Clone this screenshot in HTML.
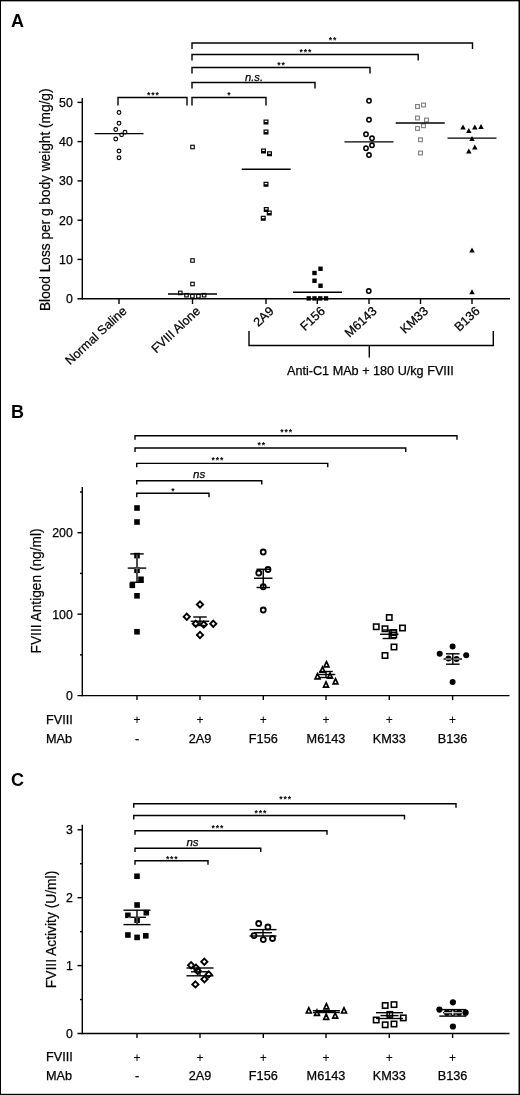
<!DOCTYPE html>
<html lang="en"><head><meta charset="utf-8"><title>Figure</title>
<style>
html,body{margin:0;padding:0;background:#fff;}
body{width:520px;height:1095px;overflow:hidden;}
svg{display:block;font-family:"Liberation Sans", Arial, Helvetica, sans-serif;}
</style></head><body>
<svg width="520" height="1095" viewBox="0 0 520 1095">
<rect width="520" height="1095" fill="#fff"/>
<text x="11" y="26.5" font-size="18" text-anchor="start" font-weight="bold" font-style="normal" fill="#000" stroke="#000" stroke-width="0">A</text>
<line x1="77.5" y1="102.4" x2="82.3" y2="102.4" stroke="#000" stroke-width="1.4"/>
<text x="72.8" y="106.80000000000001" font-size="12.3" text-anchor="end" font-weight="normal" font-style="normal" fill="#000" stroke="#000" stroke-width="0.25">50</text>
<line x1="77.5" y1="141.6" x2="82.3" y2="141.6" stroke="#000" stroke-width="1.4"/>
<text x="72.8" y="146.0" font-size="12.3" text-anchor="end" font-weight="normal" font-style="normal" fill="#000" stroke="#000" stroke-width="0.25">40</text>
<line x1="77.5" y1="180.9" x2="82.3" y2="180.9" stroke="#000" stroke-width="1.4"/>
<text x="72.8" y="185.3" font-size="12.3" text-anchor="end" font-weight="normal" font-style="normal" fill="#000" stroke="#000" stroke-width="0.25">30</text>
<line x1="77.5" y1="220.2" x2="82.3" y2="220.2" stroke="#000" stroke-width="1.4"/>
<text x="72.8" y="224.6" font-size="12.3" text-anchor="end" font-weight="normal" font-style="normal" fill="#000" stroke="#000" stroke-width="0.25">20</text>
<line x1="77.5" y1="259.4" x2="82.3" y2="259.4" stroke="#000" stroke-width="1.4"/>
<text x="72.8" y="263.79999999999995" font-size="12.3" text-anchor="end" font-weight="normal" font-style="normal" fill="#000" stroke="#000" stroke-width="0.25">10</text>
<text x="72.8" y="303.09999999999997" font-size="12.3" text-anchor="end" font-weight="normal" font-style="normal" fill="#000" stroke="#000" stroke-width="0.25">0</text>
<text x="49.5" y="311" font-size="15.4" text-anchor="start" font-weight="normal" font-style="normal" fill="#000" stroke="#000" stroke-width="0.2" transform="rotate(-90 49.5 311)" textLength="222.5" lengthAdjust="spacingAndGlyphs">Blood Loss per g body weight (mg/g)</text>
<text x="127.5" y="312" font-size="12.5" text-anchor="end" font-weight="normal" font-style="normal" fill="#000" stroke="#000" stroke-width="0.25" transform="rotate(-43 127.5 312)">Normal Saline</text>
<text x="201.0" y="312" font-size="12.5" text-anchor="end" font-weight="normal" font-style="normal" fill="#000" stroke="#000" stroke-width="0.25" transform="rotate(-43 201.0 312)">FVIII Alone</text>
<text x="274.5" y="312" font-size="12.5" text-anchor="end" font-weight="normal" font-style="normal" fill="#000" stroke="#000" stroke-width="0.25" transform="rotate(-43 274.5 312)">2A9</text>
<text x="325.8" y="312" font-size="12.5" text-anchor="end" font-weight="normal" font-style="normal" fill="#000" stroke="#000" stroke-width="0.25" transform="rotate(-43 325.8 312)">F156</text>
<text x="377.5" y="312" font-size="12.5" text-anchor="end" font-weight="normal" font-style="normal" fill="#000" stroke="#000" stroke-width="0.25" transform="rotate(-43 377.5 312)">M6143</text>
<text x="429.0" y="312" font-size="12.5" text-anchor="end" font-weight="normal" font-style="normal" fill="#000" stroke="#000" stroke-width="0.25" transform="rotate(-43 429.0 312)">KM33</text>
<text x="480.5" y="312" font-size="12.5" text-anchor="end" font-weight="normal" font-style="normal" fill="#000" stroke="#000" stroke-width="0.25" transform="rotate(-43 480.5 312)">B136</text>
<path d="M249 331 V345.5 H493.3 V331" stroke="#000" stroke-width="1.4" fill="none" />
<line x1="369.3" y1="345.5" x2="369.3" y2="357.5" stroke="#000" stroke-width="1.4"/>
<text x="287" y="375" font-size="12.65" text-anchor="start" font-weight="normal" font-style="normal" fill="#000" stroke="#000" stroke-width="0.25">Anti-C1 MAb + 180 U/kg FVIII</text>
<circle cx="119" cy="112.5" r="1.85" fill="none" stroke="#000" stroke-width="1.15"/>
<circle cx="119" cy="123.25" r="1.85" fill="none" stroke="#000" stroke-width="1.15"/>
<circle cx="115.75" cy="129.5" r="1.85" fill="none" stroke="#000" stroke-width="1.15"/>
<circle cx="125" cy="132.2" r="1.85" fill="none" stroke="#000" stroke-width="1.15"/>
<circle cx="121.6" cy="134.8" r="1.85" fill="none" stroke="#000" stroke-width="1.15"/>
<circle cx="115.75" cy="139" r="1.85" fill="none" stroke="#000" stroke-width="1.15"/>
<circle cx="119" cy="151" r="1.85" fill="none" stroke="#000" stroke-width="1.15"/>
<circle cx="119" cy="157.75" r="1.85" fill="none" stroke="#000" stroke-width="1.15"/>
<rect x="190.75" y="145.25" width="3.5" height="3.5" fill="none" stroke="#000" stroke-width="1.1"/>
<rect x="190.75" y="258.75" width="3.5" height="3.5" fill="none" stroke="#000" stroke-width="1.1"/>
<rect x="190.75" y="282.25" width="3.5" height="3.5" fill="none" stroke="#000" stroke-width="1.1"/>
<rect x="178.55" y="291.15" width="3.5" height="3.5" fill="none" stroke="#000" stroke-width="1.1"/>
<rect x="184.75" y="293.45" width="3.5" height="3.5" fill="none" stroke="#000" stroke-width="1.1"/>
<rect x="190.65" y="294.45" width="3.5" height="3.5" fill="none" stroke="#000" stroke-width="1.1"/>
<rect x="196.65" y="294.45" width="3.5" height="3.5" fill="none" stroke="#000" stroke-width="1.1"/>
<rect x="202.35" y="293.45" width="3.5" height="3.5" fill="none" stroke="#000" stroke-width="1.1"/>
<rect x="264.1" y="120.1" width="3.8" height="3.8" fill="none" stroke="#000" stroke-width="1.2"/>
<rect x="264.1" y="122" width="3.8" height="1.9" fill="#000"/>
<rect x="264.1" y="130.1" width="3.8" height="3.8" fill="none" stroke="#000" stroke-width="1.2"/>
<rect x="264.1" y="132" width="3.8" height="1.9" fill="#000"/>
<rect x="261.6" y="149.1" width="3.8" height="3.8" fill="none" stroke="#000" stroke-width="1.2"/>
<rect x="261.6" y="151" width="3.8" height="1.9" fill="#000"/>
<rect x="267.6" y="151.85" width="3.8" height="3.8" fill="none" stroke="#000" stroke-width="1.2"/>
<rect x="267.6" y="153.75" width="3.8" height="1.9" fill="#000"/>
<rect x="264.1" y="182.35" width="3.8" height="3.8" fill="none" stroke="#000" stroke-width="1.2"/>
<rect x="264.1" y="184.25" width="3.8" height="1.9" fill="#000"/>
<rect x="264.35" y="207.6" width="3.8" height="3.8" fill="none" stroke="#000" stroke-width="1.2"/>
<rect x="264.35" y="209.5" width="3.8" height="1.9" fill="#000"/>
<rect x="267.35" y="211.1" width="3.8" height="3.8" fill="none" stroke="#000" stroke-width="1.2"/>
<rect x="267.35" y="213" width="3.8" height="1.9" fill="#000"/>
<rect x="261.35" y="216.35" width="3.8" height="3.8" fill="none" stroke="#000" stroke-width="1.2"/>
<rect x="261.35" y="218.25" width="3.8" height="1.9" fill="#000"/>
<rect x="318.3" y="266.55" width="4.4" height="4.4" fill="#000"/>
<rect x="312.3" y="270.8" width="4.4" height="4.4" fill="#000"/>
<rect x="312.3" y="278.55" width="4.4" height="4.4" fill="#000"/>
<rect x="318.3" y="283.55" width="4.4" height="4.4" fill="#000"/>
<rect x="306.55" y="296.2" width="4.4" height="4.4" fill="#000"/>
<rect x="312.3" y="296.2" width="4.4" height="4.4" fill="#000"/>
<rect x="318.05" y="296.2" width="4.4" height="4.4" fill="#000"/>
<rect x="323.8" y="296.2" width="4.4" height="4.4" fill="#000"/>
<circle cx="369" cy="100.75" r="2.15" fill="none" stroke="#000" stroke-width="1.55"/>
<circle cx="369" cy="119.75" r="2.15" fill="none" stroke="#000" stroke-width="1.55"/>
<circle cx="366" cy="134.25" r="2.15" fill="none" stroke="#000" stroke-width="1.55"/>
<circle cx="372" cy="138.25" r="2.15" fill="none" stroke="#000" stroke-width="1.55"/>
<circle cx="372" cy="145.25" r="2.15" fill="none" stroke="#000" stroke-width="1.55"/>
<circle cx="366" cy="148.25" r="2.15" fill="none" stroke="#000" stroke-width="1.55"/>
<circle cx="369" cy="155" r="2.15" fill="none" stroke="#000" stroke-width="1.55"/>
<circle cx="368.75" cy="291" r="2.15" fill="none" stroke="#000" stroke-width="1.55"/>
<rect x="415.6" y="104.6" width="3.8" height="3.8" fill="none" stroke="#7d7d7d" stroke-width="1.1"/>
<rect x="421.6" y="103.1" width="3.8" height="3.8" fill="none" stroke="#7d7d7d" stroke-width="1.1"/>
<rect x="415.6" y="116.1" width="3.8" height="3.8" fill="none" stroke="#7d7d7d" stroke-width="1.1"/>
<rect x="424.6" y="118.1" width="3.8" height="3.8" fill="none" stroke="#7d7d7d" stroke-width="1.1"/>
<rect x="421.6" y="123.85" width="3.8" height="3.8" fill="none" stroke="#7d7d7d" stroke-width="1.1"/>
<rect x="415.6" y="126.6" width="3.8" height="3.8" fill="none" stroke="#7d7d7d" stroke-width="1.1"/>
<rect x="418.6" y="137.85" width="3.8" height="3.8" fill="none" stroke="#7d7d7d" stroke-width="1.1"/>
<rect x="418.6" y="151.1" width="3.8" height="3.8" fill="none" stroke="#7d7d7d" stroke-width="1.1"/>
<path d="M463 124.5 L465.75 129.5 L460.25 129.5 Z" fill="#000"/>
<path d="M468.8 127.9 L471.55 132.9 L466.05 132.9 Z" fill="#000"/>
<path d="M474.8 124.6 L477.55 129.6 L472.05 129.6 Z" fill="#000"/>
<path d="M481 124.0 L483.75 129.0 L478.25 129.0 Z" fill="#000"/>
<path d="M472 136.0 L474.75 141.0 L469.25 141.0 Z" fill="#000"/>
<path d="M474.8 144.5 L477.55 149.5 L472.05 149.5 Z" fill="#000"/>
<path d="M468.8 148.5 L471.55 153.5 L466.05 153.5 Z" fill="#000"/>
<path d="M472 247.5 L474.75 252.5 L469.25 252.5 Z" fill="#000"/>
<path d="M472 289.25 L474.75 294.25 L469.25 294.25 Z" fill="#000"/>
<line x1="94.5" y1="133.6" x2="143.5" y2="133.6" stroke="#000" stroke-width="1.4"/>
<line x1="168.0" y1="294" x2="217.0" y2="294" stroke="#000" stroke-width="1.4"/>
<line x1="241.7" y1="169.3" x2="290.7" y2="169.3" stroke="#000" stroke-width="1.4"/>
<line x1="293.0" y1="292.3" x2="342.0" y2="292.3" stroke="#000" stroke-width="1.4"/>
<line x1="344.5" y1="141.9" x2="393.5" y2="141.9" stroke="#000" stroke-width="1.4"/>
<line x1="395.7" y1="123" x2="444.7" y2="123" stroke="#000" stroke-width="1.4"/>
<line x1="447.5" y1="138.1" x2="496.5" y2="138.1" stroke="#000" stroke-width="1.4"/>
<line x1="82.3" y1="98" x2="82.3" y2="299.4" stroke="#000" stroke-width="1.4"/>
<line x1="77.5" y1="298.7" x2="510" y2="298.7" stroke="#000" stroke-width="1.4"/>
<line x1="119" y1="298.7" x2="119" y2="304" stroke="#000" stroke-width="1.4"/>
<line x1="192.5" y1="298.7" x2="192.5" y2="304" stroke="#000" stroke-width="1.4"/>
<line x1="266" y1="298.7" x2="266" y2="304" stroke="#000" stroke-width="1.4"/>
<line x1="317.3" y1="298.7" x2="317.3" y2="304" stroke="#000" stroke-width="1.4"/>
<line x1="369" y1="298.7" x2="369" y2="304" stroke="#000" stroke-width="1.4"/>
<line x1="420.5" y1="298.7" x2="420.5" y2="304" stroke="#000" stroke-width="1.4"/>
<line x1="472" y1="298.7" x2="472" y2="304" stroke="#000" stroke-width="1.4"/>
<path d="M118 105.5 V97.5 H187 V105.5" stroke="#000" stroke-width="1.4" fill="none" stroke-linejoin="miter" stroke-linecap="butt"/>
<path d="M192 105.5 V97.5 H266 V105.5" stroke="#000" stroke-width="1.4" fill="none" stroke-linejoin="miter" stroke-linecap="butt"/>
<path d="M192 88.5 V82.5 H315 V88.5" stroke="#000" stroke-width="1.4" fill="none" stroke-linejoin="miter" stroke-linecap="butt"/>
<path d="M192 73.5 V67.5 H370 V73.5" stroke="#000" stroke-width="1.4" fill="none" stroke-linejoin="miter" stroke-linecap="butt"/>
<path d="M192 60.5 V54.5 H418.2 V60.5" stroke="#000" stroke-width="1.4" fill="none" stroke-linejoin="miter" stroke-linecap="butt"/>
<path d="M192 49 V43 H472.5 V49" stroke="#000" stroke-width="1.4" fill="none" stroke-linejoin="miter" stroke-linecap="butt"/>
<text x="153.35" y="97.83" font-size="8.6" text-anchor="middle" font-weight="bold" letter-spacing="0.9" fill="#000">***</text>
<text x="229.25" y="97.73" font-size="8.6" text-anchor="middle" font-weight="bold" letter-spacing="0.9" fill="#000">*</text>
<text x="254" y="80.8" font-size="11.2" text-anchor="middle" font-weight="normal" font-style="italic" fill="#000" stroke="#000" stroke-width="0.25">n.s.</text>
<text x="281.45" y="68.13" font-size="8.6" text-anchor="middle" font-weight="bold" letter-spacing="0.9" fill="#000">**</text>
<text x="305.95" y="54.93" font-size="8.6" text-anchor="middle" font-weight="bold" letter-spacing="0.9" fill="#000">***</text>
<text x="332.95" y="43.13" font-size="8.6" text-anchor="middle" font-weight="bold" letter-spacing="0.9" fill="#000">**</text>
<text x="11" y="417.9" font-size="18" text-anchor="start" font-weight="bold" font-style="normal" fill="#000" stroke="#000" stroke-width="0">B</text>
<line x1="82.3" y1="487" x2="82.3" y2="696.3" stroke="#000" stroke-width="1.4"/>
<line x1="77.5" y1="695.6" x2="509.5" y2="695.6" stroke="#000" stroke-width="1.4"/>
<line x1="77.5" y1="614.15" x2="82.3" y2="614.15" stroke="#000" stroke-width="1.4"/>
<text x="72.8" y="618.55" font-size="12.3" text-anchor="end" font-weight="normal" font-style="normal" fill="#000" stroke="#000" stroke-width="0.25">100</text>
<line x1="77.5" y1="532.7" x2="82.3" y2="532.7" stroke="#000" stroke-width="1.4"/>
<text x="72.8" y="537.1" font-size="12.3" text-anchor="end" font-weight="normal" font-style="normal" fill="#000" stroke="#000" stroke-width="0.25">200</text>
<line x1="80" y1="654.875" x2="82.3" y2="654.875" stroke="#000" stroke-width="1.4"/>
<line x1="80" y1="573.4250000000001" x2="82.3" y2="573.4250000000001" stroke="#000" stroke-width="1.4"/>
<line x1="80" y1="491.975" x2="82.3" y2="491.975" stroke="#000" stroke-width="1.4"/>
<text x="72.8" y="700.0" font-size="12.3" text-anchor="end" font-weight="normal" font-style="normal" fill="#000" stroke="#000" stroke-width="0.25">0</text>
<text x="41.2" y="653.4" font-size="15.4" text-anchor="start" font-weight="normal" font-style="normal" fill="#000" stroke="#000" stroke-width="0.2" transform="rotate(-90 41.2 653.4)" textLength="125" lengthAdjust="spacingAndGlyphs">FVIII Antigen (ng/ml)</text>
<line x1="137" y1="695.6" x2="137" y2="700.1" stroke="#000" stroke-width="1.4"/>
<text x="137" y="723.6" font-size="12" text-anchor="middle" font-weight="normal" font-style="normal" fill="#000" stroke="#000" stroke-width="0.1">+</text>
<line x1="200" y1="695.6" x2="200" y2="700.1" stroke="#000" stroke-width="1.4"/>
<text x="200" y="723.6" font-size="12" text-anchor="middle" font-weight="normal" font-style="normal" fill="#000" stroke="#000" stroke-width="0.1">+</text>
<line x1="263.3" y1="695.6" x2="263.3" y2="700.1" stroke="#000" stroke-width="1.4"/>
<text x="263.3" y="723.6" font-size="12" text-anchor="middle" font-weight="normal" font-style="normal" fill="#000" stroke="#000" stroke-width="0.1">+</text>
<line x1="326" y1="695.6" x2="326" y2="700.1" stroke="#000" stroke-width="1.4"/>
<text x="326" y="723.6" font-size="12" text-anchor="middle" font-weight="normal" font-style="normal" fill="#000" stroke="#000" stroke-width="0.1">+</text>
<line x1="389.3" y1="695.6" x2="389.3" y2="700.1" stroke="#000" stroke-width="1.4"/>
<text x="389.3" y="723.6" font-size="12" text-anchor="middle" font-weight="normal" font-style="normal" fill="#000" stroke="#000" stroke-width="0.1">+</text>
<line x1="452.6" y1="695.6" x2="452.6" y2="700.1" stroke="#000" stroke-width="1.4"/>
<text x="452.6" y="723.6" font-size="12" text-anchor="middle" font-weight="normal" font-style="normal" fill="#000" stroke="#000" stroke-width="0.1">+</text>
<text x="46" y="724" font-size="12.7" text-anchor="start" font-weight="normal" font-style="normal" fill="#000" stroke="#000" stroke-width="0.25">FVIII</text>
<text x="46" y="742.5" font-size="12.7" text-anchor="start" font-weight="normal" font-style="normal" fill="#000" stroke="#000" stroke-width="0.25">MAb</text>
<text x="137" y="742.5" font-size="12.7" text-anchor="middle" font-weight="normal" font-style="normal" fill="#000" stroke="#000" stroke-width="0.25">-</text>
<text x="200" y="742.5" font-size="12.7" text-anchor="middle" font-weight="normal" font-style="normal" fill="#000" stroke="#000" stroke-width="0.25">2A9</text>
<text x="263.3" y="742.5" font-size="12.7" text-anchor="middle" font-weight="normal" font-style="normal" fill="#000" stroke="#000" stroke-width="0.25">F156</text>
<text x="326" y="742.5" font-size="12.7" text-anchor="middle" font-weight="normal" font-style="normal" fill="#000" stroke="#000" stroke-width="0.25">M6143</text>
<text x="389.3" y="742.5" font-size="12.7" text-anchor="middle" font-weight="normal" font-style="normal" fill="#000" stroke="#000" stroke-width="0.25">KM33</text>
<text x="452.6" y="742.5" font-size="12.7" text-anchor="middle" font-weight="normal" font-style="normal" fill="#000" stroke="#000" stroke-width="0.25">B136</text>
<path d="M135 439.65 V435.75 H457 V439.65" stroke="#000" stroke-width="1.4" fill="none" stroke-linejoin="miter" stroke-linecap="butt"/>
<path d="M135 451.9 V448 H405.75 V451.9" stroke="#000" stroke-width="1.4" fill="none" stroke-linejoin="miter" stroke-linecap="butt"/>
<path d="M136.75 467.29999999999995 V463.4 H327.75 V467.29999999999995" stroke="#000" stroke-width="1.4" fill="none" stroke-linejoin="miter" stroke-linecap="butt"/>
<path d="M136.75 484.59999999999997 V480.7 H261.75 V484.59999999999997" stroke="#000" stroke-width="1.4" fill="none" stroke-linejoin="miter" stroke-linecap="butt"/>
<path d="M136.75 497.15 V493.25 H209 V497.15" stroke="#000" stroke-width="1.4" fill="none" stroke-linejoin="miter" stroke-linecap="butt"/>
<text x="286.65" y="434.63" font-size="8.6" text-anchor="middle" font-weight="bold" letter-spacing="0.9" fill="#000">***</text>
<text x="261.65" y="448.13" font-size="8.6" text-anchor="middle" font-weight="bold" letter-spacing="0.9" fill="#000">**</text>
<text x="217.95" y="463.13" font-size="8.6" text-anchor="middle" font-weight="bold" letter-spacing="0.9" fill="#000">***</text>
<text x="199.2" y="478" font-size="11.5" text-anchor="middle" font-weight="normal" font-style="italic" fill="#000" stroke="#000" stroke-width="0.25">ns</text>
<text x="173.25" y="493.63" font-size="8.6" text-anchor="middle" font-weight="bold" letter-spacing="0.9" fill="#000">*</text>
<line x1="137" y1="553.9" x2="137" y2="582.3" stroke="#000" stroke-width="1.4"/>
<line x1="130.25" y1="553.9" x2="143.75" y2="553.9" stroke="#000" stroke-width="1.4"/>
<line x1="130.25" y1="582.3" x2="143.75" y2="582.3" stroke="#000" stroke-width="1.4"/>
<line x1="127.75" y1="568.1" x2="146.25" y2="568.1" stroke="#000" stroke-width="1.4"/>
<clipPath id="cp1"><rect x="134.2" y="505.2" width="5.6" height="5.6"/><rect x="134.2" y="519.2" width="5.6" height="5.6"/><rect x="134.2" y="552.8000000000001" width="5.6" height="5.6"/><rect x="134.2" y="567.5" width="5.6" height="5.6"/><rect x="138.2" y="576.5" width="5.6" height="5.6"/><rect x="129.5" y="582.5" width="5.6" height="5.6"/><rect x="134.2" y="593.0" width="5.6" height="5.6"/><rect x="134.2" y="628.95" width="5.6" height="5.6"/></clipPath>
<g fill="#000"><rect x="134.2" y="505.2" width="5.6" height="5.6"/><rect x="134.2" y="519.2" width="5.6" height="5.6"/><rect x="134.2" y="552.8000000000001" width="5.6" height="5.6"/><rect x="134.2" y="567.5" width="5.6" height="5.6"/><rect x="138.2" y="576.5" width="5.6" height="5.6"/><rect x="129.5" y="582.5" width="5.6" height="5.6"/><rect x="134.2" y="593.0" width="5.6" height="5.6"/><rect x="134.2" y="628.95" width="5.6" height="5.6"/></g>
<g clip-path="url(#cp1)">
<line x1="137" y1="554.6999999999999" x2="137" y2="581.5" stroke="#999" stroke-width="0.9"/>
<line x1="127.75" y1="568.1" x2="146.25" y2="568.1" stroke="#999" stroke-width="0.9"/>
</g>
<line x1="200" y1="617" x2="200" y2="625.5" stroke="#000" stroke-width="1.4"/>
<line x1="193.25" y1="617" x2="206.75" y2="617" stroke="#000" stroke-width="1.4"/>
<line x1="193.25" y1="625.5" x2="206.75" y2="625.5" stroke="#000" stroke-width="1.4"/>
<line x1="190.75" y1="621.25" x2="209.25" y2="621.25" stroke="#000" stroke-width="1.4"/>
<path d="M200 601.4 L203.1 604.5 L200 607.6 L196.9 604.5 Z" fill="none" stroke="#000" stroke-width="1.9" stroke-linejoin="miter"/>
<path d="M186.75 613.65 L189.85 616.75 L186.75 619.85 L183.65 616.75 Z" fill="none" stroke="#000" stroke-width="1.9" stroke-linejoin="miter"/>
<path d="M213.25 620.65 L216.35 623.75 L213.25 626.85 L210.15 623.75 Z" fill="none" stroke="#000" stroke-width="1.9" stroke-linejoin="miter"/>
<path d="M195.75 620.65 L198.85 623.75 L195.75 626.85 L192.65 623.75 Z" fill="none" stroke="#000" stroke-width="1.9" stroke-linejoin="miter"/>
<path d="M203.75 621.4 L206.85 624.5 L203.75 627.6 L200.65 624.5 Z" fill="none" stroke="#000" stroke-width="1.9" stroke-linejoin="miter"/>
<path d="M200 631.9 L203.1 635 L200 638.1 L196.9 635 Z" fill="none" stroke="#000" stroke-width="1.9" stroke-linejoin="miter"/>
<line x1="263.25" y1="569.25" x2="263.25" y2="587.5" stroke="#000" stroke-width="1.4"/>
<line x1="256.5" y1="569.25" x2="270.0" y2="569.25" stroke="#000" stroke-width="1.4"/>
<line x1="256.5" y1="587.5" x2="270.0" y2="587.5" stroke="#000" stroke-width="1.4"/>
<line x1="254.0" y1="578.25" x2="272.5" y2="578.25" stroke="#000" stroke-width="1.4"/>
<circle cx="263.25" cy="552" r="2.5" fill="none" stroke="#000" stroke-width="1.8"/>
<circle cx="268" cy="569.5" r="2.5" fill="none" stroke="#000" stroke-width="1.8"/>
<circle cx="258.75" cy="573" r="2.5" fill="none" stroke="#000" stroke-width="1.8"/>
<circle cx="263.25" cy="586.75" r="2.5" fill="none" stroke="#000" stroke-width="1.8"/>
<circle cx="263.25" cy="610" r="2.5" fill="none" stroke="#000" stroke-width="1.8"/>
<line x1="326" y1="671.5" x2="326" y2="677.5" stroke="#000" stroke-width="1.4"/>
<line x1="319.25" y1="671.5" x2="332.75" y2="671.5" stroke="#000" stroke-width="1.4"/>
<line x1="319.25" y1="677.5" x2="332.75" y2="677.5" stroke="#000" stroke-width="1.4"/>
<line x1="316.75" y1="674.5" x2="335.25" y2="674.5" stroke="#000" stroke-width="1.4"/>
<path d="M326.5 661.65 L328.95 666.85 L324.05 666.85 Z" fill="none" stroke="#000" stroke-width="1.7" stroke-linejoin="miter"/>
<path d="M322.5 666.9 L324.95 672.1 L320.05 672.1 Z" fill="none" stroke="#000" stroke-width="1.7" stroke-linejoin="miter"/>
<path d="M317.5 673.65 L319.95 678.85 L315.05 678.85 Z" fill="none" stroke="#000" stroke-width="1.7" stroke-linejoin="miter"/>
<path d="M330 672.9 L332.45 678.1 L327.55 678.1 Z" fill="none" stroke="#000" stroke-width="1.7" stroke-linejoin="miter"/>
<path d="M335.5 678.65 L337.95 683.85 L333.05 683.85 Z" fill="none" stroke="#000" stroke-width="1.7" stroke-linejoin="miter"/>
<path d="M326 681.9 L328.45 687.1 L323.55 687.1 Z" fill="none" stroke="#000" stroke-width="1.7" stroke-linejoin="miter"/>
<line x1="389.25" y1="630" x2="389.25" y2="638.5" stroke="#000" stroke-width="1.4"/>
<line x1="382.5" y1="630" x2="396.0" y2="630" stroke="#000" stroke-width="1.4"/>
<line x1="382.5" y1="638.5" x2="396.0" y2="638.5" stroke="#000" stroke-width="1.4"/>
<line x1="380.0" y1="634.25" x2="398.5" y2="634.25" stroke="#000" stroke-width="1.4"/>
<rect x="386.55" y="614.8" width="5.4" height="5.4" fill="none" stroke="#000" stroke-width="1.55"/>
<rect x="373.55" y="624.05" width="5.4" height="5.4" fill="none" stroke="#000" stroke-width="1.55"/>
<rect x="382.3" y="626.05" width="5.4" height="5.4" fill="none" stroke="#000" stroke-width="1.55"/>
<rect x="399.8" y="625.3" width="5.4" height="5.4" fill="none" stroke="#000" stroke-width="1.55"/>
<rect x="391.05" y="629.8" width="5.4" height="5.4" fill="none" stroke="#000" stroke-width="1.55"/>
<rect x="391.05" y="632.3" width="5.4" height="5.4" fill="none" stroke="#000" stroke-width="1.55"/>
<rect x="391.3" y="644.3" width="5.4" height="5.4" fill="none" stroke="#000" stroke-width="1.55"/>
<rect x="382.3" y="652.8" width="5.4" height="5.4" fill="none" stroke="#000" stroke-width="1.55"/>
<line x1="452.8" y1="653.8" x2="452.8" y2="664.2" stroke="#000" stroke-width="1.4"/>
<line x1="446.05" y1="653.8" x2="459.55" y2="653.8" stroke="#000" stroke-width="1.4"/>
<line x1="446.05" y1="664.2" x2="459.55" y2="664.2" stroke="#000" stroke-width="1.4"/>
<line x1="443.55" y1="659" x2="462.05" y2="659" stroke="#000" stroke-width="1.4"/>
<clipPath id="cp2"><circle cx="452.6" cy="646.5" r="3.0"/><circle cx="439.7" cy="653.8" r="3.0"/><circle cx="466.2" cy="655.2" r="3.0"/><circle cx="448.5" cy="658.5" r="3.0"/><circle cx="456.5" cy="659" r="3.0"/><circle cx="452.6" cy="682" r="3.0"/></clipPath>
<g fill="#000"><circle cx="452.6" cy="646.5" r="3.0"/><circle cx="439.7" cy="653.8" r="3.0"/><circle cx="466.2" cy="655.2" r="3.0"/><circle cx="448.5" cy="658.5" r="3.0"/><circle cx="456.5" cy="659" r="3.0"/><circle cx="452.6" cy="682" r="3.0"/></g>
<g clip-path="url(#cp2)">
<line x1="452.8" y1="654.5999999999999" x2="452.8" y2="663.4000000000001" stroke="#eee" stroke-width="1.0"/>
<line x1="443.55" y1="659" x2="462.05" y2="659" stroke="#eee" stroke-width="1.0"/>
</g>
<text x="11" y="785.9" font-size="18" text-anchor="start" font-weight="bold" font-style="normal" fill="#000" stroke="#000" stroke-width="0">C</text>
<line x1="82.3" y1="824.8" x2="82.3" y2="1034.2" stroke="#000" stroke-width="1.4"/>
<line x1="77.5" y1="1033.5" x2="509.5" y2="1033.5" stroke="#000" stroke-width="1.4"/>
<line x1="77.5" y1="965.6" x2="82.3" y2="965.6" stroke="#000" stroke-width="1.4"/>
<text x="72.8" y="970.0" font-size="12.3" text-anchor="end" font-weight="normal" font-style="normal" fill="#000" stroke="#000" stroke-width="0.25">1</text>
<line x1="77.5" y1="897.7" x2="82.3" y2="897.7" stroke="#000" stroke-width="1.4"/>
<text x="72.8" y="902.1" font-size="12.3" text-anchor="end" font-weight="normal" font-style="normal" fill="#000" stroke="#000" stroke-width="0.25">2</text>
<line x1="77.5" y1="829.8" x2="82.3" y2="829.8" stroke="#000" stroke-width="1.4"/>
<text x="72.8" y="834.1999999999999" font-size="12.3" text-anchor="end" font-weight="normal" font-style="normal" fill="#000" stroke="#000" stroke-width="0.25">3</text>
<line x1="80" y1="999.55" x2="82.3" y2="999.55" stroke="#000" stroke-width="1.4"/>
<line x1="80" y1="931.65" x2="82.3" y2="931.65" stroke="#000" stroke-width="1.4"/>
<line x1="80" y1="863.75" x2="82.3" y2="863.75" stroke="#000" stroke-width="1.4"/>
<text x="72.8" y="1037.9" font-size="12.3" text-anchor="end" font-weight="normal" font-style="normal" fill="#000" stroke="#000" stroke-width="0.25">0</text>
<text x="55.9" y="988.2" font-size="15.4" text-anchor="start" font-weight="normal" font-style="normal" fill="#000" stroke="#000" stroke-width="0.2" transform="rotate(-90 55.9 988.2)" textLength="117.5" lengthAdjust="spacingAndGlyphs">FVIII Activity (U/ml)</text>
<line x1="137" y1="1033.5" x2="137" y2="1038.0" stroke="#000" stroke-width="1.4"/>
<text x="137" y="1061.6" font-size="12" text-anchor="middle" font-weight="normal" font-style="normal" fill="#000" stroke="#000" stroke-width="0.1">+</text>
<line x1="200" y1="1033.5" x2="200" y2="1038.0" stroke="#000" stroke-width="1.4"/>
<text x="200" y="1061.6" font-size="12" text-anchor="middle" font-weight="normal" font-style="normal" fill="#000" stroke="#000" stroke-width="0.1">+</text>
<line x1="263.3" y1="1033.5" x2="263.3" y2="1038.0" stroke="#000" stroke-width="1.4"/>
<text x="263.3" y="1061.6" font-size="12" text-anchor="middle" font-weight="normal" font-style="normal" fill="#000" stroke="#000" stroke-width="0.1">+</text>
<line x1="326" y1="1033.5" x2="326" y2="1038.0" stroke="#000" stroke-width="1.4"/>
<text x="326" y="1061.6" font-size="12" text-anchor="middle" font-weight="normal" font-style="normal" fill="#000" stroke="#000" stroke-width="0.1">+</text>
<line x1="389.3" y1="1033.5" x2="389.3" y2="1038.0" stroke="#000" stroke-width="1.4"/>
<text x="389.3" y="1061.6" font-size="12" text-anchor="middle" font-weight="normal" font-style="normal" fill="#000" stroke="#000" stroke-width="0.1">+</text>
<line x1="452.6" y1="1033.5" x2="452.6" y2="1038.0" stroke="#000" stroke-width="1.4"/>
<text x="452.6" y="1061.6" font-size="12" text-anchor="middle" font-weight="normal" font-style="normal" fill="#000" stroke="#000" stroke-width="0.1">+</text>
<text x="46" y="1061.3" font-size="12.7" text-anchor="start" font-weight="normal" font-style="normal" fill="#000" stroke="#000" stroke-width="0.25">FVIII</text>
<text x="46" y="1080.4" font-size="12.7" text-anchor="start" font-weight="normal" font-style="normal" fill="#000" stroke="#000" stroke-width="0.25">MAb</text>
<text x="137" y="1080.4" font-size="12.7" text-anchor="middle" font-weight="normal" font-style="normal" fill="#000" stroke="#000" stroke-width="0.25">-</text>
<text x="200" y="1080.4" font-size="12.7" text-anchor="middle" font-weight="normal" font-style="normal" fill="#000" stroke="#000" stroke-width="0.25">2A9</text>
<text x="263.3" y="1080.4" font-size="12.7" text-anchor="middle" font-weight="normal" font-style="normal" fill="#000" stroke="#000" stroke-width="0.25">F156</text>
<text x="326" y="1080.4" font-size="12.7" text-anchor="middle" font-weight="normal" font-style="normal" fill="#000" stroke="#000" stroke-width="0.25">M6143</text>
<text x="389.3" y="1080.4" font-size="12.7" text-anchor="middle" font-weight="normal" font-style="normal" fill="#000" stroke="#000" stroke-width="0.25">KM33</text>
<text x="452.6" y="1080.4" font-size="12.7" text-anchor="middle" font-weight="normal" font-style="normal" fill="#000" stroke="#000" stroke-width="0.25">B136</text>
<path d="M133.75 807.65 V803.75 H456 V807.65" stroke="#000" stroke-width="1.4" fill="none" stroke-linejoin="miter" stroke-linecap="butt"/>
<path d="M133.75 819.4 V815.5 H404.5 V819.4" stroke="#000" stroke-width="1.4" fill="none" stroke-linejoin="miter" stroke-linecap="butt"/>
<path d="M135 834.65 V830.75 H327 V834.65" stroke="#000" stroke-width="1.4" fill="none" stroke-linejoin="miter" stroke-linecap="butt"/>
<path d="M135 852.1 V848.2 H260.75 V852.1" stroke="#000" stroke-width="1.4" fill="none" stroke-linejoin="miter" stroke-linecap="butt"/>
<path d="M135 864.65 V860.75 H208 V864.65" stroke="#000" stroke-width="1.4" fill="none" stroke-linejoin="miter" stroke-linecap="butt"/>
<text x="285.65" y="801.93" font-size="8.6" text-anchor="middle" font-weight="bold" letter-spacing="0.9" fill="#000">***</text>
<text x="260.84999999999997" y="815.93" font-size="8.6" text-anchor="middle" font-weight="bold" letter-spacing="0.9" fill="#000">***</text>
<text x="217.95" y="831.13" font-size="8.6" text-anchor="middle" font-weight="bold" letter-spacing="0.9" fill="#000">***</text>
<text x="192.5" y="845.8" font-size="11.5" text-anchor="middle" font-weight="normal" font-style="italic" fill="#000" stroke="#000" stroke-width="0.25">ns</text>
<text x="172.25" y="861.63" font-size="8.6" text-anchor="middle" font-weight="bold" letter-spacing="0.9" fill="#000">***</text>
<line x1="137" y1="910.2" x2="137" y2="924.6" stroke="#000" stroke-width="1.4"/>
<line x1="123.5" y1="910.2" x2="150.5" y2="910.2" stroke="#000" stroke-width="1.4"/>
<line x1="123.5" y1="924.6" x2="150.5" y2="924.6" stroke="#000" stroke-width="1.4"/>
<line x1="128.0" y1="917.3" x2="146.0" y2="917.3" stroke="#000" stroke-width="1.4"/>
<clipPath id="cp3"><rect x="134.2" y="873.45" width="5.6" height="5.6"/><rect x="134.29999999999998" y="902.2" width="5.6" height="5.6"/><rect x="143.5" y="909.9000000000001" width="5.6" height="5.6"/><rect x="125.10000000000001" y="912.5" width="5.6" height="5.6"/><rect x="134.29999999999998" y="917.4000000000001" width="5.6" height="5.6"/><rect x="125.10000000000001" y="932.2" width="5.6" height="5.6"/><rect x="134.29999999999998" y="934.6" width="5.6" height="5.6"/><rect x="143.0" y="933.0" width="5.6" height="5.6"/></clipPath>
<g fill="#000"><rect x="134.2" y="873.45" width="5.6" height="5.6"/><rect x="134.29999999999998" y="902.2" width="5.6" height="5.6"/><rect x="143.5" y="909.9000000000001" width="5.6" height="5.6"/><rect x="125.10000000000001" y="912.5" width="5.6" height="5.6"/><rect x="134.29999999999998" y="917.4000000000001" width="5.6" height="5.6"/><rect x="125.10000000000001" y="932.2" width="5.6" height="5.6"/><rect x="134.29999999999998" y="934.6" width="5.6" height="5.6"/><rect x="143.0" y="933.0" width="5.6" height="5.6"/></g>
<g clip-path="url(#cp3)">
<line x1="137" y1="911.0" x2="137" y2="923.8000000000001" stroke="#999" stroke-width="0.9"/>
<line x1="128.0" y1="917.3" x2="146.0" y2="917.3" stroke="#999" stroke-width="0.9"/>
</g>
<line x1="200" y1="968" x2="200" y2="975.8" stroke="#000" stroke-width="1.4"/>
<line x1="186.5" y1="968" x2="213.5" y2="968" stroke="#000" stroke-width="1.4"/>
<line x1="186.5" y1="975.8" x2="213.5" y2="975.8" stroke="#000" stroke-width="1.4"/>
<line x1="191.0" y1="971.8" x2="209.0" y2="971.8" stroke="#000" stroke-width="1.4"/>
<path d="M204.3 958.6 L207.4 961.7 L204.3 964.8000000000001 L201.20000000000002 961.7 Z" fill="none" stroke="#000" stroke-width="1.9" stroke-linejoin="miter"/>
<path d="M191.1 962.1 L194.2 965.2 L191.1 968.3000000000001 L188.0 965.2 Z" fill="none" stroke="#000" stroke-width="1.9" stroke-linejoin="miter"/>
<path d="M196 964.6 L199.1 967.7 L196 970.8000000000001 L192.9 967.7 Z" fill="none" stroke="#000" stroke-width="1.9" stroke-linejoin="miter"/>
<path d="M197.7 967.9 L200.79999999999998 971 L197.7 974.1 L194.6 971 Z" fill="none" stroke="#000" stroke-width="1.9" stroke-linejoin="miter"/>
<path d="M208.7 971.3 L211.79999999999998 974.4 L208.7 977.5 L205.6 974.4 Z" fill="none" stroke="#000" stroke-width="1.9" stroke-linejoin="miter"/>
<path d="M204.4 976.1 L207.5 979.2 L204.4 982.3000000000001 L201.3 979.2 Z" fill="none" stroke="#000" stroke-width="1.9" stroke-linejoin="miter"/>
<path d="M195.4 981.3 L198.5 984.4 L195.4 987.5 L192.3 984.4 Z" fill="none" stroke="#000" stroke-width="1.9" stroke-linejoin="miter"/>
<line x1="263" y1="929.6" x2="263" y2="936" stroke="#000" stroke-width="1.4"/>
<line x1="249.5" y1="929.6" x2="276.5" y2="929.6" stroke="#000" stroke-width="1.4"/>
<line x1="249.5" y1="936" x2="276.5" y2="936" stroke="#000" stroke-width="1.4"/>
<line x1="254.0" y1="932.7" x2="272.0" y2="932.7" stroke="#000" stroke-width="1.4"/>
<circle cx="258.7" cy="923.5" r="2.5" fill="none" stroke="#000" stroke-width="1.8"/>
<circle cx="267.9" cy="927" r="2.5" fill="none" stroke="#000" stroke-width="1.8"/>
<circle cx="254" cy="935.6" r="2.5" fill="none" stroke="#000" stroke-width="1.8"/>
<circle cx="263.3" cy="939.6" r="2.5" fill="none" stroke="#000" stroke-width="1.8"/>
<circle cx="272.5" cy="938.5" r="2.5" fill="none" stroke="#000" stroke-width="1.8"/>
<line x1="326.4" y1="1010.7" x2="326.4" y2="1012.5" stroke="#000" stroke-width="1.4"/>
<line x1="312.9" y1="1010.7" x2="339.9" y2="1010.7" stroke="#000" stroke-width="1.4"/>
<line x1="312.9" y1="1012.5" x2="339.9" y2="1012.5" stroke="#000" stroke-width="1.4"/>
<line x1="317.4" y1="1011.6" x2="335.4" y2="1011.6" stroke="#000" stroke-width="1.4"/>
<path d="M326.4 1003.6999999999999 L328.84999999999997 1008.9 L323.95 1008.9 Z" fill="none" stroke="#000" stroke-width="1.7" stroke-linejoin="miter"/>
<path d="M308.8 1007.8 L311.25 1013.0 L306.35 1013.0 Z" fill="none" stroke="#000" stroke-width="1.7" stroke-linejoin="miter"/>
<path d="M344 1007.8 L346.45 1013.0 L341.55 1013.0 Z" fill="none" stroke="#000" stroke-width="1.7" stroke-linejoin="miter"/>
<path d="M317 1010.1 L319.45 1015.3000000000001 L314.55 1015.3000000000001 Z" fill="none" stroke="#000" stroke-width="1.7" stroke-linejoin="miter"/>
<path d="M326.2 1014.1 L328.65 1019.3000000000001 L323.75 1019.3000000000001 Z" fill="none" stroke="#000" stroke-width="1.7" stroke-linejoin="miter"/>
<path d="M335.2 1013.0 L337.65 1018.2 L332.75 1018.2 Z" fill="none" stroke="#000" stroke-width="1.7" stroke-linejoin="miter"/>
<line x1="389.5" y1="1012.7" x2="389.5" y2="1018.5" stroke="#000" stroke-width="1.4"/>
<line x1="376.0" y1="1012.7" x2="403.0" y2="1012.7" stroke="#000" stroke-width="1.4"/>
<line x1="376.0" y1="1018.5" x2="403.0" y2="1018.5" stroke="#000" stroke-width="1.4"/>
<line x1="380.5" y1="1015.6" x2="398.5" y2="1015.6" stroke="#000" stroke-width="1.4"/>
<rect x="382.5" y="1002.8" width="5.4" height="5.4" fill="none" stroke="#000" stroke-width="1.55"/>
<rect x="391.3" y="1001.9" width="5.4" height="5.4" fill="none" stroke="#000" stroke-width="1.55"/>
<rect x="373.5" y="1017.3" width="5.4" height="5.4" fill="none" stroke="#000" stroke-width="1.55"/>
<rect x="387.1" y="1011.6999999999999" width="5.4" height="5.4" fill="none" stroke="#000" stroke-width="1.55"/>
<rect x="400.6" y="1015.1999999999999" width="5.4" height="5.4" fill="none" stroke="#000" stroke-width="1.55"/>
<rect x="382.5" y="1022.0999999999999" width="5.4" height="5.4" fill="none" stroke="#000" stroke-width="1.55"/>
<rect x="391.3" y="1021.3" width="5.4" height="5.4" fill="none" stroke="#000" stroke-width="1.55"/>
<line x1="452.8" y1="1009.6" x2="452.8" y2="1016.1" stroke="#000" stroke-width="1.4"/>
<line x1="439.3" y1="1009.6" x2="466.3" y2="1009.6" stroke="#000" stroke-width="1.4"/>
<line x1="439.3" y1="1016.1" x2="466.3" y2="1016.1" stroke="#000" stroke-width="1.4"/>
<line x1="443.05" y1="1012.7" x2="462.55" y2="1012.7" stroke="#000" stroke-width="1.4"/>
<clipPath id="cp4"><circle cx="452.9" cy="1002.3" r="3.1"/><circle cx="439.4" cy="1009.6" r="3.1"/><circle cx="447" cy="1012.7" r="3.1"/><circle cx="453" cy="1012.7" r="3.1"/><circle cx="459" cy="1012.7" r="3.1"/><circle cx="465.6" cy="1012.7" r="3.1"/><circle cx="452.9" cy="1026.5" r="3.1"/></clipPath>
<g fill="#000"><circle cx="452.9" cy="1002.3" r="3.1"/><circle cx="439.4" cy="1009.6" r="3.1"/><circle cx="447" cy="1012.7" r="3.1"/><circle cx="453" cy="1012.7" r="3.1"/><circle cx="459" cy="1012.7" r="3.1"/><circle cx="465.6" cy="1012.7" r="3.1"/><circle cx="452.9" cy="1026.5" r="3.1"/></g>
<g clip-path="url(#cp4)">
<line x1="452.8" y1="1010.4" x2="452.8" y2="1015.3000000000001" stroke="#fff" stroke-width="1.1"/>
<line x1="443.05" y1="1012.7" x2="462.55" y2="1012.7" stroke="#fff" stroke-width="1.1"/>
</g>
<rect x="0" y="0" width="1.0" height="1095" fill="#000"/>
<rect x="518.5" y="0" width="1.5" height="1095" fill="#000"/>
<rect x="0" y="0" width="520" height="1.35" fill="#000"/>
<rect x="0" y="1093.8" width="520" height="1.2" fill="#000"/>
</svg>
</body></html>
